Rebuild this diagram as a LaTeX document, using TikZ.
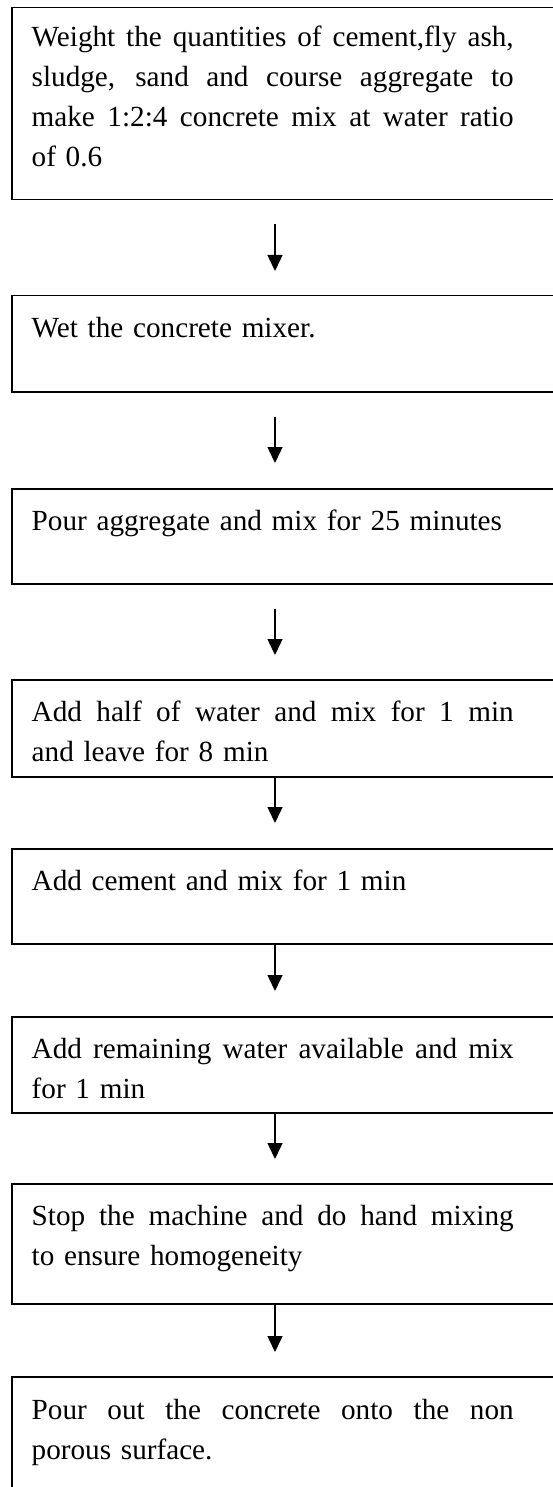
\documentclass[tikz,border=0pt]{standalone}
\usepackage{fontspec}
\setmainfont{Liberation Serif}
\usetikzlibrary{arrows.meta,calc}
\newcommand{\jline}[1]{\leavevmode\hbox to 482pt{\spaceskip=\fontdimen2\font plus 1fil\relax #1}}
\begin{document}
\begin{tikzpicture}[x=1pt,y=1pt,
  stepbox/.style={draw, line width=1.5pt, rectangle, anchor=north west, minimum width=600pt, inner sep=0pt},
  steptext/.style={anchor=base west, inner sep=0pt, text width=482pt, align=left, font=\fontsize{29.2pt}{40pt}\selectfont},
  arr/.style={line width=1.5pt, -{Triangle[width=15pt,length=16pt]}}]
\useasboundingbox (0,0) rectangle (552,-1487);
\coordinate (ax) at (275,0);
% boxes
\node[stepbox, minimum height=192pt] (b1) at (11,-7) {};
\node[stepbox, minimum height=96pt] (b2) at (11,-295) {};
\node[stepbox, minimum height=95pt] (b3) at (11,-488) {};
\node[stepbox, minimum height=97pt] (b4) at (11,-679) {};
\node[stepbox, minimum height=95pt] (b5) at (11,-848) {};
\node[stepbox, minimum height=96pt] (b6) at (11,-1016) {};
\node[stepbox, minimum height=120pt] (b7) at (11,-1183) {};
\node[stepbox, minimum height=150pt] (b8) at (11,-1376) {};
% texts
\node[steptext] (t1) at ($(b1.north west)+(20.5,-40)$) {\jline{Weight the quantities of cement,fly ash,}\\\jline{sludge, sand and course aggregate to}\\\jline{make 1:2:4 concrete mix at water ratio}\\of 0.6};
\node[steptext] (t2) at ($(b2.north west)+(20.5,-42)$) {Wet the concrete mixer.};
\node[steptext] (t3) at ($(b3.north west)+(20.5,-42)$) {Pour aggregate and mix for 25 minutes};
\node[steptext] (t4) at ($(b4.north west)+(20.5,-42)$) {\jline{Add half of water and mix for 1 min}\\and leave for 8 min};
\node[steptext] (t5) at ($(b5.north west)+(20.5,-42)$) {Add cement and mix for 1 min};
\node[steptext] (t6) at ($(b6.north west)+(20.5,-42)$) {\jline{Add remaining water available and mix}\\for 1 min};
\node[steptext] (t7) at ($(b7.north west)+(20.5,-42)$) {\jline{Stop the machine and do hand mixing}\\to ensure homogeneity};
\node[steptext] (t8) at ($(b8.north west)+(20.5,-43)$) {\jline{Pour out the concrete onto the non}\\porous surface.};
% arrows
\draw[arr] ($(b1.south -| ax)+(0,-24)$) -- ($(b2.north -| ax)+(0,24)$);
\draw[arr] ($(b2.south -| ax)+(0,-24)$) -- ($(b3.north -| ax)+(0,25)$);
\draw[arr] ($(b3.south -| ax)+(0,-24)$) -- ($(b4.north -| ax)+(0,24)$);
\draw[arr] (b4.south -| ax) -- ($(b5.north -| ax)+(0,25)$);
\draw[arr] (b5.south -| ax) -- ($(b6.north -| ax)+(0,25)$);
\draw[arr] (b6.south -| ax) -- ($(b7.north -| ax)+(0,24)$);
\draw[arr] (b7.south -| ax) -- ($(b8.north -| ax)+(0,24)$);
\end{tikzpicture}
\end{document}
